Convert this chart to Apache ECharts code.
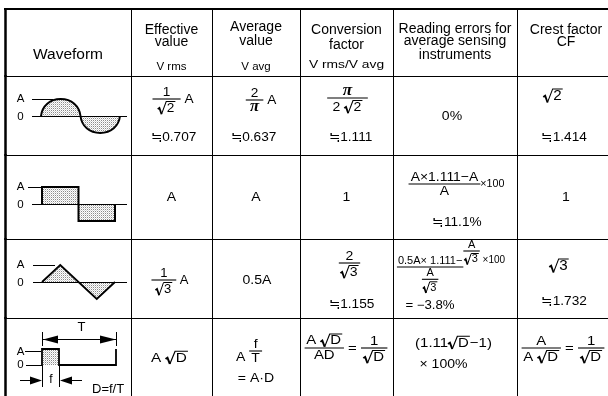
<!DOCTYPE html>
<html>
<head>
<meta charset="utf-8">
<script src="https://cdn.jsdelivr.net/npm/echarts@6/dist/echarts.min.js"></script>
<style>
html,body{margin:0;padding:0;background:#fff;}
#chart{width:608px;height:396px;}
</style>
</head>
<body>
<div id="chart"></div>
<script>
// ---------------- DATA ----------------
// notation helpers (content structure only)
const frac = (n, d, pad) => ({ frac: [n, d], pad: pad });
const sqrt = e => ({ sqrt: e });
const small = (e, s) => ({ size: s, e: e });
const raise = (e, dy) => ({ raise: e, dy: dy });

const headers = [
  ['Waveform'],
  ['Effective', 'value', 'V rms'],
  ['Average', 'value', 'V avg'],
  ['Conversion', 'factor', 'V rms/V avg'],
  ['Reading errors for', 'average sensing', 'instruments'],
  ['Crest factor', 'CF']
];
const waveforms = ['sine', 'square', 'triangle', 'pulse'];
const effectiveValue = [
  [[frac('1', sqrt('2'), 5), ' A'], '≒0.707'],
  ['A'],
  [[frac('1', sqrt('3'), 4), ' A']],
  [['A ', sqrt('D')]]
];
const averageValue = [
  [[frac('2', 'π', 4), ' A'], '≒0.637'],
  ['A'],
  ['0.5A'],
  [[raise('A ', 6), frac('f', 'T', 2)], '= A·D']
];
const conversionFactor = [
  [frac('π', ['2 ', sqrt('2')], 5), '≒1.111'],
  ['1'],
  [frac('2', sqrt('3'), 1.5), '≒1.155'],
  [[frac(['A ', sqrt('D')], 'AD', 1.5), ' = ', frac('1', sqrt('D'), 2)]]
];
const readingError = [
  ['0%'],
  [[frac('A×1.111−A', 'A', 2), small('×100', 10)], '≒11.1%'],
  [[frac('0.5A× 1.111−', frac('A', sqrt('3'), 1), 1), raise(frac('A', sqrt('3'), 1), -16), raise(small(' ×100', 10), -7)], '= −3.8%'],
  [['(1.11', sqrt('D'), '−1)'], '× 100%']
];
const crestFactor = [
  [sqrt('2'), '≒1.414'],
  ['1'],
  [sqrt('3'), '≒1.732'],
  [[frac('A', ['A ', sqrt('D')], 1.5), ' = ', frac('1', sqrt('D'), 2)]]
];
const columnData = [waveforms, effectiveValue, averageValue, conversionFactor, readingError, crestFactor];

// ---------------- LAYOUT / STYLE ----------------
const COL_EDGES = [5, 131, 212, 300, 393, 517, 615];
const ROW_EDGES = [9, 76, 155, 239, 318, 397];
const INK = '#000';
const SANS = '"Liberation Sans", Arial, "Noto Sans CJK JP", sans-serif';
const SERIF = '"Liberation Serif", "DejaVu Serif", serif';

const HEADER_LAYOUT = [
  [{ y: 46, s: 15.5 }],
  [{ y: 21 }, { y: 33 }, { y: 58, s: 11.5 }],
  [{ y: 18 }, { y: 32 }, { y: 58, s: 11.5 }],
  [{ y: 21 }, { y: 36 }, { y: 56, s: 11.5, sx: 1.2 }],
  [{ y: 20 }, { y: 32 }, { y: 46 }],
  [{ y: 21 }, { y: 33 }]
];
const BODY_LAYOUT = [
  null,
  [[{ y: 23, dx: 1.5, sx: 1.05 }, { y: 61, dx: 2, sx: 1.05 }], [{ y: 42 }], [{ y: 41, dx: -1.5, sx: 1.0 }], [{ y: 40, dx: -2, sx: 1.18 }]],
  [[{ y: 24, dx: 5, sx: 1.05 }, { y: 61, dx: -2.5, sx: 1.05 }], [{ y: 42 }], [{ y: 41, dx: 1 }], [{ y: 33, dx: -7 }, { y: 60, dx: 0 }]],
  [[{ y: 22, dx: 1 }, { y: 61, dx: 4, sx: 1.05 }], [{ y: 42 }], [{ y: 24, dx: 3 }, { y: 65, dx: 5, sx: 1.05 }], [{ y: 30, dx: -0.5, sx: 1.15 }]],
  [[{ y: 40, dx: -3 }], [{ y: 29, dx: 1.5, sx: 1.07 }, { y: 67, dx: 2, sx: 1.05 }], [{ y: 28, dx: -4, s: 11, sx: 1.0 }, { y: 67, dx: -25, s: 12, sx: 1.1 }], [{ y: 25, dx: -1.5, sx: 1.15 }, { y: 46, dx: -11.5 }]],
  [[{ y: 20, dx: -13, s: 14 }, { y: 61, dx: -2, sx: 1.05 }], [{ y: 42 }], [{ y: 27, dx: -7, s: 14 }, { y: 62, dx: -2, sx: 1.05 }], [{ y: 30, dx: -3, sx: 1.15 }]]
];
const WAVE_LAYOUT = [
  { x0: 36, w: 79, zy: 40, amp: 17, labA: 23, lab0: 41, aY: 23, aLine: [27, 48], zLine: [27, 122] },
  { x0: 37, w: 73, zy: 49, amp: 17, labA: 32, lab0: 50, aY: 32, aLine: [23, 37], zLine: [27, 122] },
  { x0: 37, w: 73, zy: 43, amp: 17, labA: 26, lab0: 44, aY: 26, aLine: [28, 50], zLine: [28, 122] },
  { x0: 37, w: 74, pw: 17, zy: 47, amp: 16, labA: 34, lab0: 47, aY: 33, aLine: [20, 36], zLine: [21, 37], ty: 21, fy: 62, fBottom: 69 }
];

// stipple fill
const patCanvas = document.createElement('canvas');
patCanvas.width = 2; patCanvas.height = 2;
(function () {
  const p = patCanvas.getContext('2d');
  p.fillStyle = '#ffffff'; p.fillRect(0, 0, 2, 2);
  p.fillStyle = '#8c8c8c'; p.fillRect(0, 0, 1, 1);
  p.fillStyle = '#d4d4d4'; p.fillRect(1, 1, 1, 1);
})();
const STIPPLE = { image: patCanvas, repeat: 'repeat' };

// ---------------- MATH TEXT LAYOUT ----------------
const mctx = document.createElement('canvas').getContext('2d');
function fontOf(tok, s) {
  if (tok === 'π') return 'italic bold ' + Math.round(s * 1.25) + 'px ' + SERIF;
  return s + 'px ' + SANS;
}
function measure(e, s) {
  if (typeof e === 'string') {
    mctx.font = fontOf(e, s);
    return { w: mctx.measureText(e).width, a: 0.4 * s, d: 0.4 * s };
  }
  if (Array.isArray(e)) {
    let w = 0, a = 0, d = 0;
    e.forEach(x => { const m = measure(x, s); w += m.w; a = Math.max(a, m.a); d = Math.max(d, m.d); });
    return { w, a, d };
  }
  if (e.frac) {
    const n = measure(e.frac[0], s), dd = measure(e.frac[1], s);
    const pad = e.pad == null ? 2 : e.pad;
    return { w: Math.max(n.w, dd.w) + 2 * pad, a: n.a + n.d + 1.5, d: dd.a + dd.d + 2 };
  }
  if (e.sqrt) {
    const m = measure(e.sqrt, s);
    return { w: 0.62 * s + m.w + 1.5, a: m.a + 2, d: m.d + 0.5 };
  }
  if (e.size) return measure(e.e, e.size);
  if (e.raise) {
    const m = measure(e.raise, s);
    return { w: m.w, a: Math.max(0, m.a - e.dy), d: Math.max(0, m.d + e.dy) };
  }
  return { w: 0, a: 0, d: 0 };
}
function draw(e, s, x, y, out) {
  if (typeof e === 'string') {
    out.push({ type: 'text', style: { text: e, x: x, y: y, font: fontOf(e, s), fill: INK, align: 'left', verticalAlign: 'middle' } });
    return;
  }
  if (Array.isArray(e)) {
    e.forEach(item => { draw(item, s, x, y, out); x += measure(item, s).w; });
    return;
  }
  if (e.frac) {
    const m = measure(e, s), n = measure(e.frac[0], s), d = measure(e.frac[1], s);
    out.push({ type: 'line', shape: { x1: x, y1: y, x2: x + m.w, y2: y }, style: { stroke: INK, lineWidth: 1.1 } });
    draw(e.frac[0], s, x + (m.w - n.w) / 2, y - 1.5 - n.d, out);
    draw(e.frac[1], s, x + (m.w - d.w) / 2, y + 2 + d.a, out);
    return;
  }
  if (e.sqrt) {
    const m = measure(e.sqrt, s), sw = 0.62 * s;
    const top = y - m.a - 1.5, bot = y + m.d + 0.8;
    out.push({ type: 'polyline', shape: { points: [[x, y + 1], [x + 0.2 * sw, y - 0.3], [x + 0.45 * sw, bot]] }, style: { stroke: INK, lineWidth: 1.7, fill: 'none' } });
    out.push({ type: 'polyline', shape: { points: [[x + 0.45 * sw, bot], [x + sw, top], [x + sw + m.w + 1.5, top]] }, style: { stroke: INK, lineWidth: 1, fill: 'none' } });
    draw(e.sqrt, s, x + sw + 0.5, y, out);
    return;
  }
  if (e.size) { draw(e.e, e.size, x, y, out); return; }
  if (e.raise) { draw(e.raise, s, x, y + e.dy, out); return; }
}

// ---------------- WAVEFORM ILLUSTRATIONS ----------------
function drawWave(kind, W) {
  const k = [];
  const line = (x1, y1, x2, y2, lw) => k.push({ type: 'line', shape: { x1, y1, x2, y2 }, style: { stroke: INK, lineWidth: lw || 1 } });
  const lbl = (t, x, y, s) => k.push({ type: 'text', style: { text: t, x: x, y: y, font: s + 'px ' + SANS, fill: INK, align: 'center', verticalAlign: 'middle' } });
  const x0 = W.x0, w = W.w, zy = W.zy, amp = W.amp, q = w / 4;
  lbl('A', 15.5, W.labA, 11.5);
  lbl('0', 15.5, W.lab0, 11.5);
  line(W.aLine[0], W.aY + 0.5, W.aLine[1], W.aY + 0.5, 1);
  if (kind === 'sine') {
    const hump = (sgn, i0) => {
      const xa = x0 + i0 * q, xp = xa + q, xb = xa + 2 * q, yp = zy - sgn * amp;
      return 'C' + (xa + 0.06 * q) + ' ' + (zy - sgn * 0.6 * amp) + ' ' + (xp - 0.55 * q) + ' ' + yp + ' ' + xp + ' ' + yp +
        ' C' + (xp + 0.55 * q) + ' ' + yp + ' ' + (xb - 0.06 * q) + ' ' + (zy - sgn * 0.6 * amp) + ' ' + xb + ' ' + zy;
    };
    const p1 = 'M' + x0 + ' ' + zy + ' ' + hump(1, 0);
    const p2 = 'M' + (x0 + 2 * q) + ' ' + zy + ' ' + hump(-1, 2);
    k.push({ type: 'path', shape: { pathData: p1 + ' Z' }, style: { fill: STIPPLE, stroke: 'none' } });
    k.push({ type: 'path', shape: { pathData: p2 + ' Z' }, style: { fill: STIPPLE, stroke: 'none' } });
    line(W.zLine[0], zy + 0.5, W.zLine[1], zy + 0.5, 1);
    k.push({ type: 'path', shape: { pathData: p1 + ' ' + hump(-1, 2) }, style: { fill: 'none', stroke: INK, lineWidth: 2 } });
  } else if (kind === 'square') {
    k.push({ type: 'rect', shape: { x: x0, y: zy - amp, width: w / 2, height: amp }, style: { fill: STIPPLE } });
    k.push({ type: 'rect', shape: { x: x0 + w / 2, y: zy, width: w / 2, height: amp }, style: { fill: STIPPLE } });
    line(W.zLine[0], zy + 0.5, W.zLine[1], zy + 0.5, 1);
    k.push({ type: 'polyline', shape: { points: [[x0, zy], [x0, zy - amp], [x0 + w / 2, zy - amp], [x0 + w / 2, zy + amp], [x0 + w, zy + amp], [x0 + w, zy]] }, style: { fill: 'none', stroke: INK, lineWidth: 2 } });
  } else if (kind === 'triangle') {
    k.push({ type: 'polygon', shape: { points: [[x0, zy], [x0 + q, zy - amp], [x0 + 2 * q, zy]] }, style: { fill: STIPPLE } });
    k.push({ type: 'polygon', shape: { points: [[x0 + 2 * q, zy], [x0 + 3 * q, zy + amp], [x0 + w, zy]] }, style: { fill: STIPPLE } });
    line(W.zLine[0], zy + 0.5, W.zLine[1], zy + 0.5, 1);
    k.push({ type: 'polyline', shape: { points: [[x0, zy], [x0 + q, zy - amp], [x0 + 3 * q, zy + amp], [x0 + w, zy]] }, style: { fill: 'none', stroke: INK, lineWidth: 1.8 } });
  } else if (kind === 'pulse') {
    const pw = W.pw, ty = W.ty, fy = W.fy;
    k.push({ type: 'rect', shape: { x: x0, y: zy - amp, width: pw, height: amp }, style: { fill: STIPPLE } });
    line(W.zLine[0], zy + 0.5, W.zLine[1], zy + 0.5, 1);
    k.push({ type: 'polyline', shape: { points: [[x0, zy], [x0, zy - amp], [x0 + pw, zy - amp], [x0 + pw, zy], [x0 + w, zy], [x0 + w, zy - amp]] }, style: { fill: 'none', stroke: INK, lineWidth: 1.8 } });
    // period dimension
    line(x0 + 0.5, ty - 7, x0 + 0.5, ty + 7, 1);
    line(x0 + w + 0.5, ty - 7, x0 + w + 0.5, ty + 7, 1);
    line(x0, ty + 0.5, x0 + w, ty + 0.5, 1);
    k.push({ type: 'polygon', shape: { points: [[x0 + 1, ty + 0.5], [x0 + 16, ty - 3.5], [x0 + 16, ty + 4.5]] }, style: { fill: INK } });
    k.push({ type: 'polygon', shape: { points: [[x0 + w, ty + 0.5], [x0 + w - 16, ty - 3.5], [x0 + w - 16, ty + 4.5]] }, style: { fill: INK } });
    lbl('T', x0 + w / 2 + 2.5, 9, 13);
    // pulse width dimension
    line(x0 + 0.5, zy, x0 + 0.5, W.fBottom, 1);
    line(x0 + pw + 0.5, zy, x0 + pw + 0.5, W.fBottom, 1);
    line(x0 - 22, fy + 0.5, x0 - 10, fy + 0.5, 1);
    k.push({ type: 'polygon', shape: { points: [[x0, fy + 0.5], [x0 - 12, fy - 3.5], [x0 - 12, fy + 4.5]] }, style: { fill: INK } });
    line(x0 + pw + 10, fy + 0.5, x0 + pw + 23, fy + 0.5, 1);
    k.push({ type: 'polygon', shape: { points: [[x0 + pw + 1, fy + 0.5], [x0 + pw + 13, fy - 3.5], [x0 + pw + 13, fy + 4.5]] }, style: { fill: INK } });
    lbl('f', x0 + pw / 2 + 0.5, fy, 12);
    k.push({ type: 'text', style: { text: 'D=f/T', x: 87, y: 71, font: '13px ' + SANS, fill: INK, align: 'left', verticalAlign: 'middle' } });
  }
  return k;
}

// ---------------- CELLS ----------------
const cells = [];
for (let r = 0; r < ROW_EDGES.length - 1; r++) {
  for (let c = 0; c < COL_EDGES.length - 1; c++) cells.push([c, r]);
}

function cellContent(c, r, left, top, width) {
  const out = [];
  const cx = left + width / 2;
  if (r === 0) {
    headers[c].forEach((t, i) => {
      const L = HEADER_LAYOUT[c][i];
      out.push({ type: 'text', x: cx + (L.dx || 0), y: top + L.y, scaleX: L.sx || 1,
        style: { text: t, x: 0, y: 0, font: (L.s || 14) + 'px ' + SANS, fill: INK, align: 'center', verticalAlign: 'middle' } });
    });
    return out;
  }
  if (c === 0) {
    out.push({ type: 'group', x: left, y: top, children: drawWave(waveforms[r - 1], WAVE_LAYOUT[r - 1]) });
    return out;
  }
  const lines = columnData[c][r - 1];
  lines.forEach((e, i) => {
    const L = BODY_LAYOUT[c][r - 1][i];
    const s = L.s || 13;
    const m = measure(e, s);
    const kids = [];
    draw(e, s, -m.w / 2, 0, kids);
    out.push({ type: 'group', x: cx + (L.dx || 0), y: top + L.y, scaleX: L.sx || 1.08, children: kids });
  });
  return out;
}

const chart = echarts.init(document.getElementById('chart'), null, { renderer: 'canvas' });
chart.setOption({
  animation: false,
  backgroundColor: '#fff',
  grid: { left: 0, right: 0, top: 0, bottom: 0 },
  xAxis: { type: 'value', min: 0, max: 608, show: false },
  yAxis: { type: 'value', min: 0, max: 396, inverse: true, show: false },
  series: [{
    type: 'custom',
    coordinateSystem: 'cartesian2d',
    clip: false,
    data: cells,
    renderItem: function (params, api) {
      const c = api.value(0), r = api.value(1);
      const p0 = api.coord([COL_EDGES[c], ROW_EDGES[r]]);
      const p1 = api.coord([COL_EDGES[c + 1], ROW_EDGES[r + 1]]);
      const children = [];
      const xr = Math.round(p1[0]) + 0.5, yb = Math.round(p1[1]) + 0.5;
      children.push({ type: 'line', shape: { x1: xr, y1: p0[1], x2: xr, y2: p1[1] + 1 }, style: { stroke: INK, lineWidth: 1 } });
      children.push({ type: 'line', shape: { x1: p0[0], y1: yb, x2: p1[0] + 1, y2: yb }, style: { stroke: INK, lineWidth: 1 } });
      if (r === 0) children.push({ type: 'line', shape: { x1: p0[0] - 1, y1: p0[1], x2: p1[0] + 1, y2: p0[1] }, style: { stroke: INK, lineWidth: 2 } });
      if (c === 0) children.push({ type: 'line', shape: { x1: p0[0] + 0.5, y1: p0[1] - 1, x2: p0[0] + 0.5, y2: p1[1] + 1 }, style: { stroke: INK, lineWidth: 2.5 } });
      cellContent(c, r, p0[0], p0[1], p1[0] - p0[0]).forEach(el => children.push(el));
      return { type: 'group', children: children };
    }
  }]
});
</script>
</body>
</html>
